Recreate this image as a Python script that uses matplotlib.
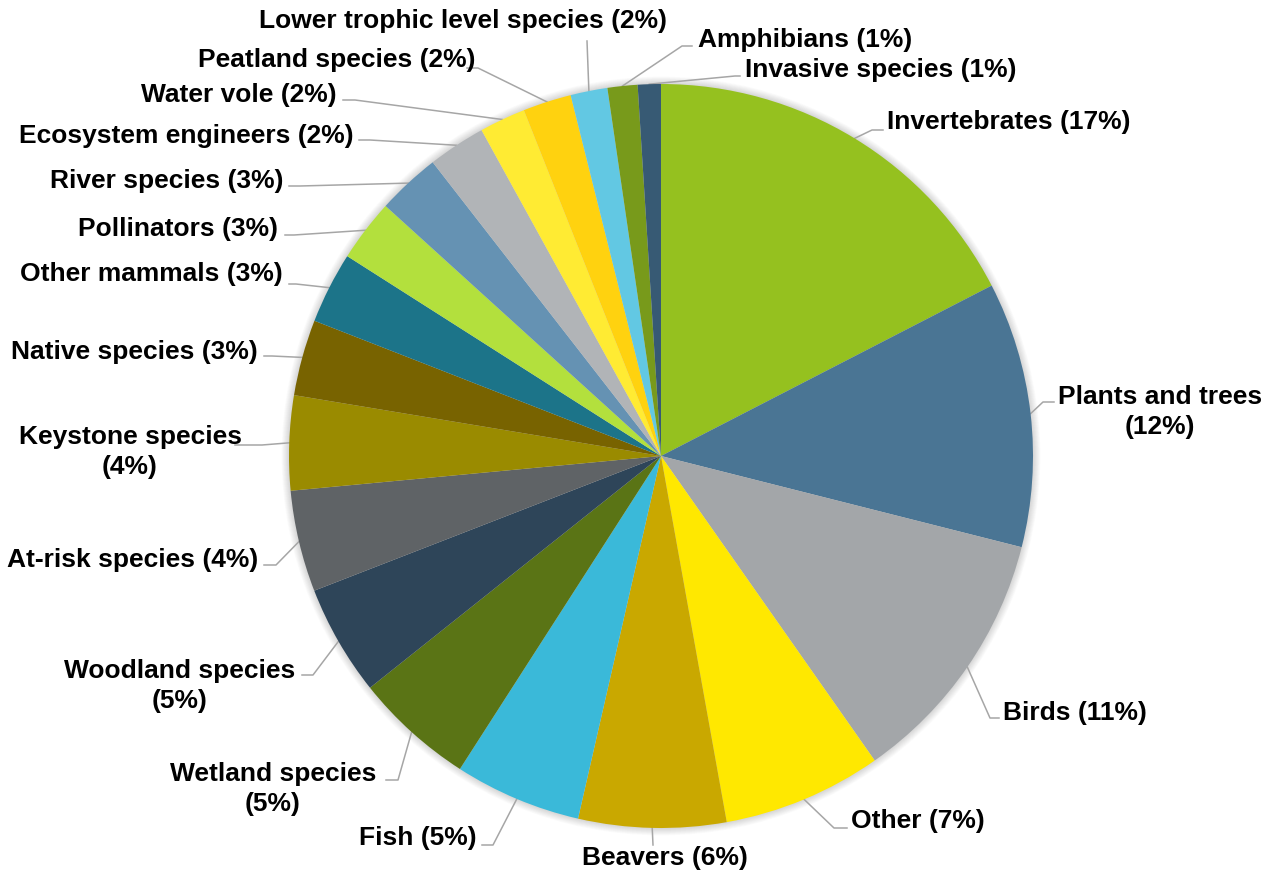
import numpy as np
import matplotlib.pyplot as plt
from matplotlib.patches import Circle

names = ["Invertebrates", "Plants and trees", "Birds", "Other", "Beavers", "Fish",
         "Wetland species", "Woodland species", "At-risk species", "Keystone species",
         "Native species", "Other mammals", "Pollinators", "River species",
         "Ecosystem engineers", "Water vole", "Peatland species",
         "Lower trophic level species", "Amphibians", "Invasive species"]
shares = [17.4, 11.5, 11.3, 6.9, 6.4, 5.5, 5.2, 4.8, 4.4, 4.1,
          3.3, 3.1, 2.7, 2.75, 2.5, 2.0, 2.1, 1.6, 1.3, 1.0]
pct_labels = [17, 12, 11, 7, 6, 5, 5, 5, 4, 4, 3, 3, 3, 3, 2, 2, 2, 2, 1, 1]
colors = ["#95C11F", "#4A7594", "#A3A6A9", "#FFE800", "#C9A800", "#3AB9D9",
          "#5A7415", "#2E4559", "#5F6366", "#9A8B00", "#786300", "#1C7489",
          "#B3E03D", "#6592B3", "#B1B4B7", "#FFEB33", "#FFD20F", "#62C8E3",
          "#789A1B", "#375A74"]
two_line = {"Plants and trees", "Wetland species", "Woodland species", "Keystone species"}

# label layout in pixels: text x, text y, align, elbow x, elbow y, line end x
CX, CY, R = 661, 457, 372
layout = [
    (887, 122, "left", 872, 131, 883),
    (1160, 412, "center", 1043, 403, 1054),
    (1003, 713, "left", 990, 719, 999),
    (851, 821, "left", 834, 829, 847),
    (665, 858, "center", 653, 846, 653),
    (477, 838, "right", 493, 846, 482),
    (273, 789, "center", 398, 781, 386),
    (180, 686, "center", 313, 676, 302),
    (258, 560, "right", 276, 566, 264),
    (130, 452, "center", 262, 446, 235),
    (258, 352, "right", 272, 357, 264),
    (283, 274, "right", 296, 285, 289),
    (278, 229, "right", 294, 236, 285),
    (283, 181, "right", 300, 187, 289),
    (354, 136, "right", 370, 141, 359),
    (337, 95, "right", 355, 101, 343),
    (476, 60, "right", 478, 69, 467),
    (463, 21, "center", 587, 42, 587),
    (698, 40, "left", 682, 47, 692),
    (745, 70, "left", 735, 77, 740),
]


def px(x, y):
    return (x - CX) / R, (CY - y) / R


def main():
    plt.rcParams["font.family"] = ["Liberation Sans", "DejaVu Sans"]
    fig = plt.figure(figsize=(12.73, 8.79), dpi=100)
    ax = fig.add_axes([0, 0, 1, 1])

    # soft shadow round the pie
    for i in range(10):
        ax.add_patch(Circle((0, 0), 1.0 + 0.002 * (i + 1), color="#000000",
                            alpha=0.014, lw=0, zorder=0))

    wedges, _ = ax.pie(shares, colors=colors, startangle=90, counterclock=False,
                       radius=1, wedgeprops=dict(linewidth=0))
    for w in wedges:
        w.set_zorder(2)

    # pie() resets the limits, so set them afterwards
    ax.set_xlim(-CX / R, (1273 - CX) / R)
    ax.set_ylim(-(879 - CY) / R, CY / R)
    ax.set_aspect("equal")
    ax.axis("off")

    for w, name, p, lay in zip(wedges, names, pct_labels, layout):
        tx, ty, ha, ex, ey, endx = lay
        mid = np.deg2rad((w.theta1 + w.theta2) / 2)
        x0, y0 = np.cos(mid), np.sin(mid)
        e = px(ex, ey)
        end = px(endx, ey)
        ax.plot([x0, e[0], end[0]], [y0, e[1], end[1]], color="#A6A6A6", lw=1.1, zorder=1)
        if name in two_line:
            txt = f"{name}\n({p}%)"
        else:
            txt = f"{name} ({p}%)"
        t = px(tx, ty)
        ax.text(t[0], t[1], txt, ha=ha, va="center", multialignment="center",
                linespacing=1.35, fontsize=19, fontweight="bold", color="black", zorder=3)

    fig.savefig("out.png", dpi=100, facecolor="white")


if __name__ == "__main__":
    main()
